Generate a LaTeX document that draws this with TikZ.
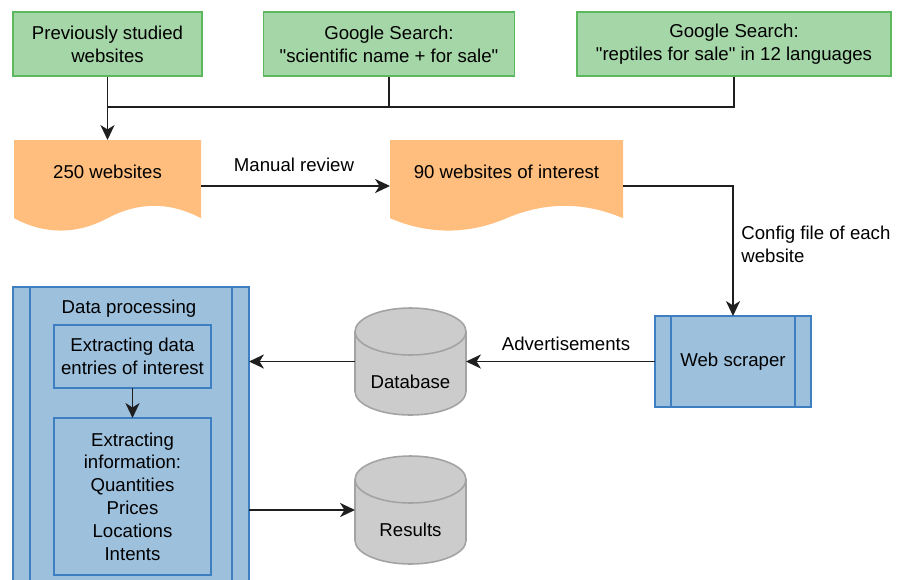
\documentclass[tikz,border=0pt]{standalone}
\usepackage{fontspec}
% a family of its own, so that straight quotes stay straight
\newfontfamily\diagramfont{Liberation Sans}
\usetikzlibrary{arrows.meta,calc}

\newdimen\pxu \pxu=0.02cm

\definecolor{greenfill}{HTML}{A5D6A7}
\definecolor{greenline}{HTML}{5CB85C}
\definecolor{docorange}{HTML}{FFBE7D}
\definecolor{bluefill}{HTML}{9DC0DD}
\definecolor{blueline}{HTML}{3E7FC2}
\definecolor{cylfill}{HTML}{CCCCCC}
\definecolor{cylline}{HTML}{A3A3A3}

% document shape with a wavy lower edge, between x = #1 and x = #2
\newcommand\docfill[2]{%
  \fill[docorange] (#1,140) -- (#2,140) -- (#2,218.2)
    .. controls ({#2-(#2-#1)/6},201.7) and ({#2-(#2-#1)/3},201.7) .. ({(#1+#2)/2},218.2)
    .. controls ({#1+(#2-#1)/3},234.7) and ({#1+(#2-#1)/6},234.7) .. (#1,218.2) -- cycle;}

% vertical cylinder: centre x #1, top ellipse centre y #2, bottom ellipse centre y #3
\newcommand\cylshape[3]{%
  \filldraw[fill=cylfill, draw=cylline, line width=0.9pt]
    ({#1-55.5},#2) -- ({#1-55.5},#3)
    .. controls ({#1-55.5},{#3+12.98}) and ({#1-30.65},{#3+23.5}) .. (#1,{#3+23.5})
    .. controls ({#1+30.65},{#3+23.5}) and ({#1+55.5},{#3+12.98}) .. ({#1+55.5},#3)
    -- ({#1+55.5},#2)
    .. controls ({#1+55.5},{#2-12.98}) and ({#1+30.65},{#2-23.5}) .. (#1,{#2-23.5})
    .. controls ({#1-30.65},{#2-23.5}) and ({#1-55.5},{#2-12.98}) .. ({#1-55.5},#2) -- cycle;
  \draw[draw=cylline, line width=0.9pt]
    ({#1-55.5},#2)
    .. controls ({#1-55.5},{#2+12.98}) and ({#1-30.65},{#2+23.5}) .. (#1,{#2+23.5})
    .. controls ({#1+30.65},{#2+23.5}) and ({#1+55.5},{#2+12.98}) .. ({#1+55.5},#2);}

\begin{document}
\begin{tikzpicture}[x=0.02cm, y=-0.02cm,
  font=\diagramfont\fontsize{10.6}{13}\selectfont,
  srcbox/.style={draw=greenline, fill=greenfill, line width=0.95pt, align=center,
    inner sep=0, minimum height=64\pxu},
  holder/.style={inner sep=0, outer sep=0},
  procbox/.style={draw=blueline, fill=bluefill, line width=0.95pt, align=center,
    inner sep=0, outer sep=0},
  procbar/.style={draw=blueline, line width=0.95pt},
  txt/.style={inner sep=0, align=center},
  conn/.style={line width=0.95pt, draw=black!88},
  arr/.style={conn, -{Stealth[length=8.5pt, width=8pt, inset=2.5pt]}}]

\useasboundingbox (0,0) rectangle (903,579);
\clip (0,0) rectangle (903,579);

% sources
\node[srcbox, minimum width=189\pxu] (g1) at (107.5,44) {Previously studied\\websites};
\node[srcbox, minimum width=251\pxu] (g2) at (389,44) {Google Search:\\"scientific name + for sale"};
\node[srcbox, minimum width=314\pxu] (g3) at (734,44) {Google Search:\\"reptiles for sale" in 12 languages};

% website lists
\docfill{14}{201}
\docfill{390}{623}
\node[holder, minimum width=187\pxu, minimum height=92\pxu] (d1) at (107.5,186) {};
\node[holder, minimum width=233\pxu, minimum height=92\pxu] (d2) at (506.5,186) {};
\node[txt] (t1) at (107.5,172) {250 websites};
\node[txt] (t2) at (506.5,172) {90 websites of interest};

% scraper
\node[procbox, minimum width=156\pxu, minimum height=91\pxu] (ws) at (733,361.5) {Web scraper};
\draw[procbar] ($(ws.north west)+(16,0)$) -- ($(ws.south west)+(16,0)$);
\draw[procbar] ($(ws.north east)+(-16,0)$) -- ($(ws.south east)+(-16,0)$);

% storage
\cylshape{410.5}{331.5}{391.5}
\node[holder, minimum width=111\pxu, minimum height=107\pxu] (db) at (410.5,361.5) {};
\node[txt] at (410.5,382) {Database};
\cylshape{410.5}{479.5}{540.5}
\node[holder, minimum width=111\pxu, minimum height=108\pxu] (res) at (410.5,510) {};
\node[txt] at (410.5,530) {Results};

% data processing
\node[procbox, minimum width=236\pxu, minimum height=318\pxu] (dp) at (131,446) {};
\draw[procbar] ($(dp.north west)+(17,0)$) -- ($(dp.south west)+(17,0)$);
\draw[procbar] ($(dp.north east)+(-17,0)$) -- ($(dp.south east)+(-17,0)$);
\node[txt] at (129,308.5) {Data processing};
\node[procbox, minimum width=157\pxu, minimum height=63\pxu] (ib1) at (132.5,356.5)
  {Extracting data\\entries of interest};
\node[procbox, minimum width=157\pxu, minimum height=157\pxu] (ib2) at (132.5,496.5)
  {Extracting\\information:\\Quantities\\Prices\\Locations\\Intents};

% connectors
\coordinate (j) at (107.5,107);
\draw[arr] (g1.south) -- (d1.north);
\draw[conn] (g2.south) -- (g2.south |- j);
\draw[conn] (g3.south) |- (j);
\draw[arr] (d1.east) -- (d2.west);
\node[txt] at (294,165) {Manual review};
\draw[arr] (d2.east) -| (ws.north);
\node[txt, align=left, anchor=west] at (741,244) {Config file of each\\website};
\draw[arr] (ws.west) -- (db.east);
\node[txt] at (566,344) {Advertisements};
\draw[arr] (db.west) -- (dp.east |- db.west);
\draw[arr] (dp.east |- res.west) -- (res.west);
\draw[arr] (ib1.south) -- (ib2.north);

\end{tikzpicture}
\end{document}
